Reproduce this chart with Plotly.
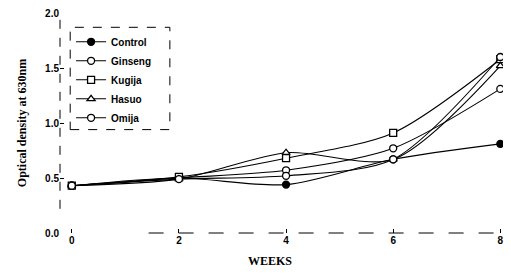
import plotly.graph_objects as go

weeks = [0, 2, 4, 6, 8]
series_names = ["Control", "Ginseng", "Kugija", "Hasuo", "Omija"]
control = [0.43, 0.50, 0.44, 0.67, 0.81]
ginseng = [0.43, 0.50, 0.57, 0.77, 1.31]
kugija = [0.43, 0.51, 0.68, 0.91, 1.58]
hasuo = [0.43, 0.49, 0.73, 0.67, 1.52]
omija = [0.43, 0.49, 0.52, 0.67, 1.60]
x_ticks = [0, 2, 4, 6, 8]
y_ticks = [0.0, 0.5, 1.0, 1.5, 2.0]
y_tick_text = ["0.0", "0.5", "1.0", "1.5", "2.0"]

values = [control, ginseng, kugija, hasuo, omija]
symbols = ["circle", "circle", "square", "triangle-up", "circle"]
fills = ["black", "white", "white", "white", "white"]

fig = go.Figure()
for name, vals, sym, fc in zip(series_names, values, symbols, fills):
    fig.add_trace(go.Scatter(
        x=weeks, y=vals, name=name, mode="lines+markers",
        line=dict(color="black", width=1.1, shape="spline", smoothing=0.8),
        marker=dict(symbol=sym, size=7, color=fc,
                    line=dict(color="black", width=1.3)),
    ))

fig.update_layout(
    width=511, height=278,
    margin=dict(l=60, r=8, t=13, b=45, autoexpand=False),
    paper_bgcolor="white", plot_bgcolor="white",
    font=dict(family="Liberation Sans, Arial, sans-serif", color="black"),
    showlegend=True,
    legend=dict(x=0.025, y=0.935, xanchor="left", yanchor="top",
                bgcolor="rgba(255,255,255,0)", borderwidth=0,
                font=dict(size=10, family="Liberation Sans, Arial, sans-serif", weight="bold"),
                tracegroupgap=0, itemwidth=30),
    xaxis=dict(range=[-0.22, 8.05], tickvals=x_ticks, ticktext=[str(t) for t in x_ticks],
               showgrid=False, zeroline=False, showline=False,
               ticks="inside", ticklen=4, tickcolor="black",
               tickfont=dict(size=10, family="Liberation Sans, Arial, sans-serif", weight="bold")),
    yaxis=dict(range=[0, 2.0], tickvals=y_ticks, ticktext=y_tick_text,
               showgrid=False, zeroline=False, showline=False,
               ticks="inside", ticklen=4, tickcolor="black",
               tickfont=dict(size=10, family="Liberation Sans, Arial, sans-serif", weight="bold"),
               title=dict(text="<b>Optical density at 630nm</b>", standoff=15,
                          font=dict(size=12, family="Liberation Serif, Times New Roman, serif"))),
    shapes=[
        dict(type="line", xref="paper", yref="paper", x0=0, x1=0, y0=0.11, y1=1.0,
             line=dict(color="black", width=1, dash="dash")),
        dict(type="line", xref="paper", yref="paper", x0=0.2, x1=1.0, y0=0, y1=0,
             line=dict(color="black", width=1, dash="longdash")),
        dict(type="rect", xref="paper", yref="paper", x0=0.023, x1=0.248, y0=0.47, y1=0.935,
             line=dict(color="black", width=1, dash="dash")),
    ],
    annotations=[
        dict(text="<b>WEEKS</b>", x=3.7, y=-0.085, xref="x", yref="paper",
             yanchor="top", showarrow=False,
             font=dict(size=12, family="Liberation Serif, Times New Roman, serif")),
    ],
)

fig.write_html("out.html", config={"displayModeBar": False},
               post_script="document.body.style.margin='0';")
